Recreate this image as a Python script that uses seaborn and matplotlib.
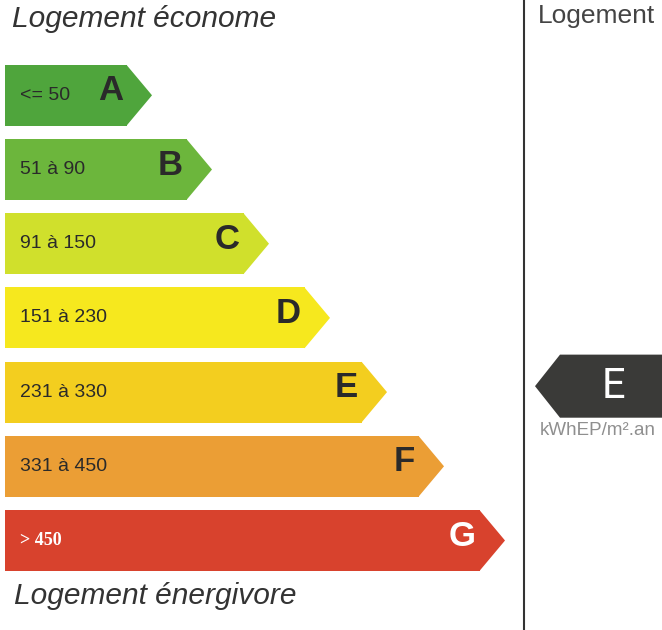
import matplotlib
matplotlib.use("Agg")
import matplotlib.pyplot as plt
import seaborn as sns

# energy classes, ranges (kWhEP/m².an) and arrow lengths (px from the left edge)
classes = ["A", "B", "C", "D", "E", "F", "G"]
ranges = ["<= 50", "51 à 90", "91 à 150", "151 à 230", "231 à 330", "331 à 450", "> 450"]
lengths = [122, 182, 239, 300, 357, 414, 475]
colors = ["#4fa53c", "#6cb63c", "#d0e02c", "#f6e81e", "#f3ce1f", "#eb9e35", "#d8422d"]
rating = "E"
unit = "kWhEP/m².an"

sns.set_theme(style="white")
plt.rcParams["font.family"] = ["Liberation Sans", "DejaVu Sans"]

fig = plt.figure(figsize=(6.62, 6.3), dpi=100)

# background axes in pixel coordinates for titles and separator
ax0 = fig.add_axes([0, 0, 1, 1])
ax0.set_xlim(0, 662)
ax0.set_ylim(630, 0)
ax0.axis("off")
ax0.text(12, 19, "Logement économe", fontsize=21.5, style="italic",
         color="#333333", va="center", ha="left")
ax0.text(14, 596, "Logement énergivore", fontsize=21.5, style="italic",
         color="#333333", va="center", ha="left")
ax0.text(538, 16, "Logement", fontsize=19, color="#444444", va="center", ha="left")
ax0.axvline(524, color="#333333", linewidth=1.5)

# bars axes: one row per class
ax = fig.add_axes([5 / 662, (630 - 577.6) / 630, 652 / 662, 519.4 / 630])
ax.patch.set_alpha(0)
sns.barplot(x=lengths, y=classes, hue=classes, palette=colors, orient="h",
            width=0.82, linewidth=0, saturation=1, legend=False, ax=ax)
ax.set_xlim(0, 652)
ax.set_ylim(6.5, -0.5)
ax.axis("off")

h = 0.82 / 2
tip = 25
for i, (cls, rng, L, c) in enumerate(zip(classes, ranges, lengths, colors)):
    ax.fill([L - 0.5, L + tip, L - 0.5], [i - h, i, i + h], color=c, linewidth=0)
    txt_col = "white" if cls == "G" else "#2a2a2a"
    ax.text(15, i, rng, fontsize=14 if cls != "G" else 13, color=txt_col,
            va="center", ha="left",
            fontweight="bold" if cls == "G" else "normal",
            family=["Liberation Serif"] if cls == "G" else ["Liberation Sans"])
    ax.text(L - 4, i - 0.06, cls, fontsize=25, fontweight="bold", color=txt_col,
            va="center", ha="right")

# rating arrow on the right, pointing left at the row of the rated class
r = classes.index(rating) - 0.08
rh = 0.85 / 2
x0 = 530
ax.fill([x0, x0 + 25, 662, 662, x0 + 25], [r, r - rh, r - rh, r + rh, r + rh],
        color="#3a3a38", linewidth=0, clip_on=False)
ax.text(608, r, rating, fontsize=30, color="white", va="center", ha="center",
        family=["Roboto", "DejaVu Sans"], clip_on=False)
ax.text(593, r + 0.6, unit, fontsize=13.5, color="#8f8f8f", va="center",
        ha="center", clip_on=False)

fig.savefig("out.png", dpi=100)
